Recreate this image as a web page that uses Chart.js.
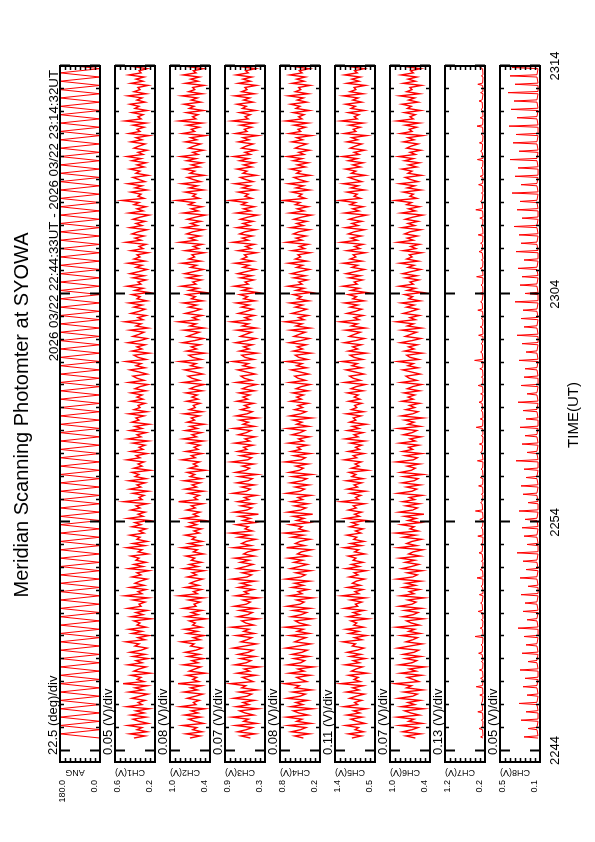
<!DOCTYPE html>
<html>
<head>
<meta charset="utf-8">
<script src="https://cdn.jsdelivr.net/npm/chart.js@4"></script>
<style>
  html, body { margin: 0; padding: 0; background: #fff; overflow: hidden; }
  #page { position: absolute; left: 0; top: 0; width: 842px; height: 595px;
          transform-origin: 0 0; transform: translate(0, 842px) rotate(-90deg); }
  #page canvas { position: absolute; left: 0; top: 0; }
</style>
</head>
<body>
<div id="page"></div>
<script>
// first sample 22:44:33 (time = minutes after 22:00)
var startMin = 44 + 33 / 60;
var angStep = 11 / 60;   // mirror angle: one end of the sweep every 11 s
var chStep = 5.5 / 60;   // photometer channels
var scanStep = 22 / 60;  // CH7/CH8 spikes, once per scan

var channelNames = ["ANG", "CH1(V)", "CH2(V)", "CH3(V)", "CH4(V)", "CH5(V)", "CH6(V)", "CH7(V)", "CH8(V)"];
var divLabels = ["22.5 (deg)/div", "0.05 (V)/div", "0.08 (V)/div", "0.07 (V)/div", "0.08 (V)/div",
                 "0.11 (V)/div", "0.07 (V)/div", "0.13 (V)/div", "0.05 (V)/div"];
var topLabels = ["180.0", "0.6", "1.0", "0.9", "0.8", "1.4", "1.0", "1.2", "0.5"];
var bottomLabels = ["0.0", "0.2", "0.4", "0.3", "0.2", "0.5", "0.4", "0.2", "0.1"];

var timeTickValues = [44, 54, 64, 74];
var timeTickLabels = ["2244", "2254", "2304", "2314"];

var ang = [0,180,0,180,0,180,0,180,0,180,0,180,0,180,0,180,0,180,0,180,
  0,180,0,180,0,180,0,180,0,180,0,180,0,180,0,180,0,180,0,180,
  0,180,0,180,0,180,0,180,0,180,0,180,0,180,0,180,0,180,0,180,
  0,180,0,180,0,180,0,180,0,180,0,180,0,180,0,180,0,180,0,180,
  0,180,0,180,0,180,0,180,0,180,0,180,0,180,0,180,0,180,0,180,
  0,180,0,180,0,180,0,180,0,180,0,180,0,180,0,180,0,180,0,180,
  0,180,0,180,0,180,0,180,0,180,0,180,0,180,0,180,0,180,0,180,
  0,180,0,180,0,180,0,180,0,180,0,180,0,180,0,180,0,180,0,180,
  0,180,0,180];

var ch1 = [0.41,0.30,0.45,0.28,0.38,0.33,0.47,0.27,0.36,0.42,0.29,0.44,0.31,0.39,0.26,0.48,0.33,0.37,0.30,0.43,
  0.35,0.27,0.46,0.32,0.40,0.28,0.52,0.31,0.38,0.34,0.44,0.25,0.41,0.36,0.29,0.47,0.33,0.39,0.27,0.42,
  0.30,0.45,0.34,0.28,0.40,0.36,0.49,0.30,0.37,0.26,0.43,0.33,0.46,0.29,0.38,0.35,0.41,0.24,0.44,0.32,
  0.39,0.28,0.47,0.34,0.36,0.30,0.42,0.27,0.50,0.33,0.37,0.29,0.45,0.31,0.40,0.35,0.28,0.43,0.34,0.38,
  0.26,0.46,0.32,0.41,0.29,0.39,0.36,0.44,0.27,0.37,0.33,0.48,0.30,0.42,0.28,0.38,0.35,0.45,0.31,0.36,
  0.29,0.43,0.34,0.40,0.26,0.47,0.32,0.37,0.30,0.44,0.35,0.39,0.28,0.51,0.33,0.36,0.31,0.42,0.27,0.45,
  0.34,0.38,0.30,0.46,0.29,0.40,0.36,0.43,0.25,0.41,0.33,0.37,0.31,0.48,0.35,0.39,0.28,0.44,0.32,0.36,
  0.30,0.42,0.27,0.47,0.34,0.38,0.29,0.45,0.33,0.40,0.26,0.43,0.36,0.39,0.31,0.46,0.28,0.41,0.35,0.37,
  0.30,0.44,0.32,0.38,
  0.33,0.44,0.29,0.40,0.35,0.27,0.46,0.31,0.38,0.42,0.28,0.36,0.45,0.30,0.39,0.34,0.49,0.29,0.37,0.41,
  0.26,0.43,0.33,0.38,0.30,0.47,0.35,0.28,0.42,0.36,0.31,0.45,0.27,0.39,0.34,0.50,0.32,0.37,0.29,0.44,
  0.36,0.30,0.41,0.33,0.46,0.28,0.38,0.35,0.43,0.26,0.40,0.32,0.48,0.34,0.37,0.29,0.42,0.31,0.45,0.36,
  0.28,0.39,0.33,0.47,0.30,0.41,0.35,0.38,0.27,0.44,0.32,0.36,0.29,0.49,0.34,0.40,0.31,0.43,0.37,0.28,
  0.45,0.33,0.39,0.30,0.42,0.35,0.26,0.46,0.32,0.38,0.29,0.41,0.36,0.53,0.31,0.37,0.34,0.44,0.28,0.40,
  0.33,0.47,0.30,0.36,0.42,0.27,0.39,0.35,0.45,0.31,0.38,0.29,0.43,0.34,0.48,0.32,0.37,0.28,0.41,0.36,
  0.30,0.44,0.33,0.39,0.26,0.46,0.35,0.38,0.31,0.42,0.29,0.50,0.34,0.37,0.32,0.43,0.28,0.40,0.36,0.45,
  0.30,0.38,0.33,0.47,0.29,0.41,0.35,0.37,0.27,0.44,0.32,0.39,0.31,0.46,0.34,0.36,0.28,0.42,0.33,0.40,
  0.30,0.45,0.35,0.37];

var ch2 = [0.70,0.55,0.76,0.52,0.66,0.60,0.81,0.50,0.63,0.72,0.54,0.78,0.58,0.68,0.48,0.84,0.61,0.65,0.56,0.74,
  0.62,0.51,0.79,0.59,0.69,0.53,0.88,0.57,0.66,0.60,0.75,0.47,0.71,0.63,0.54,0.80,0.58,0.67,0.50,0.73,
  0.56,0.77,0.61,0.52,0.69,0.64,0.83,0.55,0.65,0.49,0.74,0.59,0.78,0.53,0.66,0.62,0.71,0.46,0.76,0.58,
  0.68,0.52,0.80,0.61,0.64,0.55,0.72,0.50,0.86,0.59,0.65,0.53,0.77,0.57,0.70,0.62,0.51,0.74,0.60,0.67,
  0.49,0.79,0.58,0.71,0.53,0.68,0.63,0.76,0.50,0.65,0.59,0.82,0.55,0.72,0.52,0.67,0.62,0.77,0.56,0.64,
  0.53,0.74,0.60,0.70,0.48,0.80,0.58,0.65,0.55,0.75,0.62,0.68,0.51,0.87,0.59,0.64,0.56,0.72,0.50,0.77,
  0.60,0.67,0.55,0.79,0.53,0.70,0.63,0.74,0.47,0.71,0.59,0.65,0.56,0.82,0.62,0.68,0.52,0.76,0.58,0.64,
  0.55,0.72,0.50,0.80,0.60,0.67,0.53,0.77,0.59,0.70,0.49,0.74,0.63,0.68,0.56,0.79,0.52,0.71,0.62,0.65,
  0.55,0.75,0.58,0.67,
  0.59,0.76,0.52,0.70,0.62,0.49,0.80,0.56,0.67,0.73,0.51,0.64,0.78,0.54,0.69,0.61,0.85,0.53,0.66,0.72,
  0.48,0.75,0.60,0.68,0.55,0.81,0.63,0.50,0.74,0.65,0.56,0.79,0.49,0.70,0.61,0.87,0.58,0.66,0.52,0.77,
  0.64,0.54,0.72,0.60,0.80,0.51,0.68,0.62,0.75,0.47,0.71,0.58,0.83,0.61,0.66,0.53,0.74,0.56,0.78,0.64,
  0.50,0.69,0.60,0.82,0.54,0.72,0.63,0.67,0.49,0.77,0.57,0.65,0.52,0.85,0.61,0.71,0.55,0.75,0.66,0.50,
  0.79,0.59,0.69,0.54,0.74,0.62,0.47,0.80,0.58,0.68,0.52,0.72,0.64,0.90,0.56,0.66,0.61,0.77,0.50,0.71,
  0.59,0.82,0.54,0.65,0.74,0.49,0.70,0.63,0.79,0.56,0.68,0.52,0.75,0.61,0.84,0.58,0.66,0.50,0.72,0.64,
  0.54,0.77,0.60,0.69,0.47,0.81,0.63,0.68,0.56,0.74,0.52,0.86,0.61,0.66,0.58,0.75,0.50,0.71,0.64,0.79,
  0.54,0.68,0.59,0.82,0.52,0.72,0.63,0.66,0.49,0.77,0.58,0.69,0.56,0.80,0.61,0.65,0.50,0.74,0.60,0.71,
  0.54,0.78,0.63,0.66];

var ch3 = [0.52,0.66,0.45,0.71,0.58,0.49,0.74,0.43,0.62,0.55,0.79,0.47,0.60,0.68,0.41,0.73,0.54,0.63,0.46,0.77,
  0.57,0.50,0.69,0.42,0.65,0.59,0.82,0.48,0.56,0.64,0.44,0.72,0.53,0.61,0.39,0.75,0.58,0.51,0.67,0.45,
  0.70,0.55,0.48,0.78,0.60,0.43,0.66,0.57,0.50,0.73,0.46,0.62,0.54,0.80,0.47,0.59,0.65,0.41,0.71,0.56,
  0.49,0.68,0.44,0.76,0.58,0.52,0.63,0.40,0.74,0.55,0.61,0.47,0.70,0.53,0.66,0.45,0.79,0.57,0.50,0.64,
  0.43,0.72,0.59,0.48,0.67,0.54,0.75,0.46,0.62,0.56,0.42,0.77,0.51,0.65,0.58,0.44,0.70,0.53,0.81,0.49,
  0.60,0.55,0.73,0.45,0.63,0.52,0.68,0.40,0.76,0.57,0.50,0.66,0.47,0.71,0.54,0.61,0.43,0.78,0.58,0.52,
  0.65,0.46,0.72,0.55,0.49,0.69,0.42,0.74,0.59,0.53,0.64,0.47,0.80,0.56,0.50,0.67,0.44,0.71,0.57,0.62,
  0.48,0.75,0.53,0.60,0.45,0.70,0.58,0.51,0.77,0.46,0.63,0.55,0.68,0.42,0.73,0.57,0.49,0.66,0.54,0.61,
  0.47,0.72,0.56,0.63,
  0.53,0.69,0.46,0.64,0.56,0.43,0.73,0.50,0.61,0.66,0.45,0.58,0.71,0.48,0.63,0.55,0.78,0.47,0.60,0.65,
  0.42,0.68,0.54,0.62,0.49,0.74,0.57,0.44,0.67,0.59,0.50,0.72,0.43,0.64,0.55,0.80,0.52,0.60,0.46,0.70,
  0.58,0.48,0.65,0.54,0.73,0.45,0.62,0.56,0.68,0.41,0.64,0.52,0.76,0.55,0.60,0.47,0.67,0.50,0.71,0.58,
  0.44,0.63,0.54,0.75,0.48,0.65,0.57,0.61,0.43,0.70,0.51,0.59,0.46,0.78,0.55,0.64,0.49,0.68,0.60,0.44,
  0.72,0.53,0.63,0.48,0.67,0.56,0.41,0.73,0.52,0.62,0.46,0.65,0.58,0.83,0.50,0.60,0.55,0.70,0.44,0.64,
  0.53,0.75,0.48,0.59,0.67,0.43,0.63,0.57,0.72,0.50,0.62,0.46,0.68,0.55,0.77,0.52,0.60,0.44,0.65,0.58,
  0.48,0.70,0.54,0.63,0.41,0.74,0.57,0.61,0.50,0.67,0.46,0.79,0.55,0.60,0.52,0.68,0.44,0.64,0.58,0.72,
  0.48,0.62,0.53,0.75,0.46,0.65,0.57,0.60,0.43,0.70,0.52,0.63,0.50,0.73,0.55,0.59,0.44,0.67,0.54,0.64,
  0.48,0.71,0.57,0.60];

var ch4 = [0.45,0.58,0.36,0.63,0.49,0.41,0.67,0.34,0.55,0.47,0.70,0.38,0.52,0.60,0.31,0.64,0.46,0.56,0.39,0.69,
  0.50,0.42,0.61,0.33,0.57,0.51,0.73,0.40,0.48,0.55,0.35,0.66,0.44,0.53,0.30,0.68,0.49,0.43,0.59,0.37,
  0.62,0.47,0.39,0.71,0.52,0.34,0.58,0.50,0.41,0.65,0.36,0.54,0.45,0.72,0.38,0.51,0.57,0.32,0.63,0.48,
  0.40,0.60,0.35,0.69,0.50,0.44,0.55,0.31,0.66,0.47,0.53,0.38,0.62,0.45,0.58,0.36,0.71,0.49,0.42,0.56,
  0.34,0.64,0.51,0.39,0.59,0.46,0.67,0.37,0.54,0.48,0.33,0.70,0.43,0.57,0.50,0.35,0.62,0.45,0.73,0.40,
  0.52,0.47,0.65,0.36,0.55,0.44,0.60,0.31,0.68,0.49,0.41,0.58,0.38,0.63,0.46,0.53,0.34,0.70,0.50,0.43,
  0.57,0.37,0.64,0.47,0.40,0.61,0.33,0.66,0.51,0.45,0.56,0.38,0.72,0.48,0.42,0.59,0.35,0.63,0.49,0.54,
  0.39,0.67,0.45,0.52,0.36,0.62,0.50,0.43,0.69,0.37,0.55,0.47,0.60,0.33,0.65,0.49,0.41,0.58,0.46,0.53,
  0.38,0.64,0.48,0.55,
  0.45,0.61,0.38,0.56,0.48,0.35,0.65,0.42,0.53,0.58,0.37,0.50,0.63,0.40,0.55,0.47,0.70,0.39,0.52,0.57,
  0.34,0.60,0.46,0.54,0.41,0.66,0.49,0.36,0.59,0.51,0.42,0.64,0.35,0.56,0.47,0.72,0.44,0.52,0.38,0.62,
  0.50,0.40,0.57,0.46,0.65,0.37,0.54,0.48,0.60,0.33,0.56,0.44,0.68,0.47,0.52,0.39,0.59,0.42,0.63,0.50,
  0.36,0.55,0.46,0.67,0.40,0.57,0.49,0.53,0.35,0.62,0.43,0.51,0.38,0.70,0.47,0.56,0.41,0.60,0.52,0.36,
  0.64,0.45,0.55,0.40,0.59,0.48,0.33,0.65,0.44,0.54,0.38,0.57,0.50,0.75,0.42,0.52,0.47,0.62,0.36,0.56,
  0.45,0.67,0.40,0.51,0.59,0.35,0.55,0.49,0.64,0.42,0.54,0.38,0.60,0.47,0.69,0.44,0.52,0.36,0.57,0.50,
  0.40,0.62,0.46,0.55,0.33,0.66,0.49,0.53,0.42,0.59,0.38,0.71,0.47,0.52,0.44,0.60,0.36,0.56,0.50,0.64,
  0.40,0.54,0.45,0.67,0.38,0.57,0.49,0.52,0.35,0.62,0.44,0.55,0.42,0.65,0.47,0.51,0.36,0.59,0.46,0.56,
  0.40,0.63,0.49,0.52];

var ch5 = [1.02,0.81,1.10,0.76,0.95,0.87,1.16,0.73,0.91,1.04,0.79,1.13,0.84,0.98,0.70,1.20,0.89,0.96,0.80,1.07,
  0.92,0.74,1.14,0.86,1.00,0.77,1.27,0.83,0.97,0.88,1.09,0.68,1.03,0.93,0.78,1.17,0.85,0.99,0.72,1.06,
  0.82,1.12,0.90,0.75,1.01,0.94,1.22,0.80,0.96,0.69,1.08,0.87,1.15,0.76,0.98,0.91,1.04,0.66,1.11,0.85,
  0.99,0.75,1.18,0.89,0.94,0.80,1.05,0.72,1.24,0.86,0.95,0.77,1.12,0.83,1.01,0.92,0.74,1.08,0.88,0.97,
  0.70,1.15,0.85,1.03,0.77,0.99,0.93,1.10,0.73,0.96,0.87,1.19,0.81,1.05,0.75,0.98,0.91,1.13,0.82,0.94,
  0.77,1.07,0.89,1.02,0.69,1.16,0.85,0.96,0.80,1.10,0.92,0.99,0.74,1.26,0.87,0.94,0.82,1.05,0.72,1.12,
  0.89,0.97,0.80,1.14,0.77,1.02,0.93,1.08,0.67,1.03,0.86,0.95,0.81,1.19,0.91,0.99,0.75,1.10,0.85,0.94,
  0.80,1.05,0.73,1.17,0.88,0.97,0.77,1.12,0.86,1.01,0.70,1.07,0.93,0.99,0.82,1.14,0.76,1.03,0.91,0.96,
  0.80,1.09,0.84,0.97,
  0.88,1.12,0.77,1.04,0.92,0.72,1.18,0.83,0.99,1.07,0.75,0.95,1.15,0.80,1.02,0.90,1.24,0.78,0.97,1.06,
  0.70,1.10,0.89,1.00,0.81,1.19,0.93,0.74,1.08,0.96,0.83,1.16,0.72,1.03,0.90,1.28,0.86,0.97,0.77,1.13,
  0.94,0.80,1.06,0.89,1.18,0.75,1.00,0.92,1.10,0.69,1.04,0.86,1.22,0.90,0.97,0.78,1.08,0.83,1.15,0.94,
  0.74,1.02,0.89,1.21,0.80,1.06,0.93,0.99,0.72,1.13,0.84,0.96,0.77,1.25,0.90,1.04,0.81,1.10,0.97,0.74,
  1.16,0.88,1.02,0.80,1.08,0.92,0.69,1.18,0.86,1.00,0.77,1.06,0.94,1.30,0.83,0.97,0.90,1.13,0.74,1.04,
  0.88,1.21,0.80,0.95,1.09,0.72,1.03,0.93,1.16,0.83,1.00,0.77,1.10,0.90,1.23,0.86,0.97,0.74,1.06,0.94,
  0.80,1.13,0.89,1.02,0.69,1.19,0.93,0.99,0.83,1.08,0.77,1.26,0.90,0.97,0.86,1.10,0.74,1.04,0.94,1.16,
  0.80,1.00,0.88,1.21,0.77,1.06,0.93,0.97,0.72,1.13,0.86,1.02,0.83,1.18,0.90,0.96,0.74,1.08,0.89,1.04,
  0.80,1.15,0.93,0.97];

var ch6 = [0.62,0.76,0.54,0.81,0.67,0.58,0.85,0.52,0.72,0.64,0.89,0.56,0.69,0.78,0.50,0.83,0.63,0.73,0.55,0.87,
  0.66,0.59,0.79,0.51,0.75,0.68,0.92,0.57,0.65,0.74,0.53,0.84,0.61,0.71,0.48,0.86,0.67,0.60,0.77,0.54,
  0.80,0.64,0.57,0.88,0.70,0.52,0.76,0.66,0.59,0.83,0.55,0.72,0.63,0.90,0.56,0.68,0.75,0.50,0.81,0.65,
  0.58,0.78,0.53,0.86,0.67,0.61,0.73,0.49,0.84,0.64,0.71,0.56,0.80,0.62,0.76,0.54,0.89,0.66,0.59,0.74,
  0.52,0.82,0.68,0.57,0.77,0.63,0.85,0.55,0.72,0.65,0.51,0.87,0.60,0.75,0.67,0.53,0.80,0.62,0.91,0.58,
  0.70,0.64,0.83,0.54,0.73,0.61,0.78,0.49,0.86,0.66,0.59,0.76,0.56,0.81,0.63,0.71,0.52,0.88,0.67,0.60,
  0.75,0.55,0.82,0.64,0.58,0.79,0.51,0.84,0.68,0.62,0.74,0.56,0.90,0.65,0.59,0.77,0.53,0.81,0.66,0.72,
  0.57,0.85,0.62,0.70,0.54,0.80,0.67,0.60,0.87,0.55,0.73,0.64,0.78,0.51,0.83,0.66,0.58,0.76,0.63,0.71,
  0.56,0.82,0.65,0.73,
  0.63,0.79,0.56,0.74,0.66,0.53,0.83,0.60,0.71,0.76,0.55,0.68,0.81,0.58,0.73,0.65,0.88,0.57,0.70,0.75,
  0.52,0.78,0.64,0.72,0.59,0.84,0.67,0.54,0.77,0.69,0.60,0.82,0.53,0.74,0.65,0.90,0.62,0.70,0.56,0.80,
  0.68,0.58,0.75,0.64,0.83,0.55,0.72,0.66,0.78,0.51,0.74,0.62,0.86,0.65,0.70,0.57,0.77,0.60,0.81,0.68,
  0.54,0.73,0.64,0.85,0.58,0.75,0.67,0.71,0.53,0.80,0.61,0.69,0.56,0.88,0.65,0.74,0.59,0.78,0.70,0.54,
  0.82,0.63,0.73,0.58,0.77,0.66,0.51,0.83,0.62,0.72,0.56,0.75,0.68,0.92,0.60,0.70,0.65,0.80,0.54,0.74,
  0.63,0.85,0.58,0.69,0.77,0.53,0.73,0.67,0.82,0.60,0.72,0.56,0.78,0.65,0.87,0.62,0.70,0.54,0.75,0.68,
  0.58,0.80,0.64,0.73,0.51,0.84,0.67,0.71,0.60,0.77,0.56,0.89,0.65,0.70,0.62,0.78,0.54,0.74,0.68,0.82,
  0.58,0.72,0.63,0.85,0.56,0.75,0.67,0.70,0.53,0.80,0.62,0.73,0.60,0.83,0.65,0.69,0.54,0.77,0.64,0.74,
  0.58,0.81,0.67,0.70];

// CH7 / CH8: one narrow spike per scan: level between spikes and spike top
var ch7Base = [0.25,0.26,0.25,0.26,0.27,0.25,0.26,0.25,0.26,0.25,0.27,0.26,0.25,0.26,0.25,0.26,0.27,0.25,0.26,0.25,
  0.26,0.25,0.27,0.26,0.25,0.26,0.25,0.26,0.27,0.25,0.26,0.25,0.26,0.25,0.27,0.26,0.25,0.26,0.25,0.26,
  0.27,0.25,0.26,0.25,0.26,0.25,0.27,0.26,0.25,0.26,0.25,0.26,0.27,0.25,0.26,0.25,0.26,0.25,0.27,0.26,
  0.25,0.26,0.25,0.26,0.27,0.25,0.26,0.25,0.26,0.25,0.27,0.26,0.25,0.26,0.25,0.26,0.27,0.25,0.26,0.25,
  0.26,0.25];
var ch7Peak = [0.31,0.35,0.29,0.38,0.30,0.33,0.42,0.31,0.34,0.29,0.36,0.30,0.45,0.32,0.29,0.37,0.31,0.34,0.30,0.40,
  0.32,0.29,0.35,0.31,0.38,0.30,0.33,0.44,0.31,0.29,0.36,0.32,0.30,0.39,0.31,0.34,0.29,0.42,0.32,0.30,
  0.35,0.31,0.37,0.29,0.33,0.46,0.31,0.30,0.36,0.32,0.29,0.38,0.31,0.34,0.30,0.41,0.32,0.29,0.35,0.31,
  0.37,0.30,0.33,0.43,0.31,0.29,0.36,0.32,0.30,0.39,0.31,0.34,0.29,0.40,0.32,0.30,0.35,0.31,0.38,0.29,
  0.33,0.31];
var ch8Base = [0.12,0.13,0.12,0.12,0.13,0.12,0.13,0.12,0.12,0.13,0.12,0.13,0.12,0.12,0.13,0.12,0.13,0.12,0.12,0.13,
  0.12,0.13,0.12,0.12,0.13,0.12,0.13,0.12,0.12,0.13,0.12,0.13,0.12,0.12,0.13,0.12,0.13,0.12,0.12,0.13,
  0.12,0.13,0.12,0.12,0.13,0.12,0.13,0.12,0.12,0.13,0.12,0.13,0.12,0.12,0.13,0.12,0.13,0.12,0.12,0.13,
  0.12,0.13,0.12,0.12,0.13,0.12,0.13,0.12,0.12,0.13,0.12,0.13,0.12,0.12,0.13,0.12,0.13,0.12,0.12,0.13,
  0.12,0.13];
var ch8Peak = [0.26,0.22,0.29,0.24,0.31,0.23,0.27,0.25,0.30,0.22,0.28,0.24,0.26,0.32,0.23,0.27,0.25,0.29,0.22,0.30,
  0.24,0.27,0.33,0.23,0.26,0.28,0.25,0.31,0.22,0.27,0.29,0.24,0.26,0.34,0.23,0.28,0.25,0.30,0.24,0.27,
  0.32,0.23,0.29,0.26,0.25,0.31,0.24,0.28,0.33,0.26,0.29,0.27,0.35,0.25,0.30,0.28,0.32,0.26,0.34,0.29,
  0.31,0.36,0.28,0.33,0.30,0.38,0.29,0.35,0.32,0.40,0.31,0.37,0.34,0.41,0.33,0.39,0.36,0.42,0.35,0.40,
  0.38,0.43];

// ---- layout (landscape page, rotated onto the portrait sheet) ----
var W = 842, H = 595;
var plotLeft = 80, plotRight = 776, panelH = 40;
var FONT = '"Liberation Sans", Arial, Helvetica, sans-serif';

function sampled(values, step) {
  return values.map(function (v, i) { return { x: startMin + i * step, y: v }; });
}
function spikes(base, peak) {
  var pts = [], n = Math.min(base.length, peak.length);
  for (var k = 0; k < n; k++) {
    var t = startMin + k * scanStep;
    pts.push({ x: t, y: base[k] });
    pts.push({ x: t + 3 / 60, y: peak[k] });
    pts.push({ x: t + 6 / 60, y: base[k] });
  }
  return pts;
}

var series = [sampled(ang, angStep), sampled(ch1, chStep), sampled(ch2, chStep), sampled(ch3, chStep),
              sampled(ch4, chStep), sampled(ch5, chStep), sampled(ch6, chStep),
              spikes(ch7Base, ch7Peak), spikes(ch8Base, ch8Peak)];

var panelFrame = {
  id: 'panelFrame',
  afterDatasetsDraw: function (chart, args, o) {
    var ctx = chart.ctx, a = chart.chartArea, x = chart.scales.x, y = chart.scales.y;
    ctx.save();
    ctx.strokeStyle = '#000';
    // time ticks, inside the frame on both long edges
    for (var m = Math.ceil(x.min); m <= x.max; m++) {
      var px = Math.round(x.getPixelForValue(m)) + 0.5;
      var major = timeTickValues.indexOf(m) >= 0;
      var len = major ? 10 : 4;
      ctx.lineWidth = major ? 2 : 1.5;
      ctx.beginPath();
      ctx.moveTo(px, a.top); ctx.lineTo(px, a.top + len);
      ctx.moveTo(px, a.bottom); ctx.lineTo(px, a.bottom - len);
      ctx.stroke();
    }
    // value ticks, 8 divisions
    ctx.lineWidth = 1.5;
    ctx.beginPath();
    for (var k = 1; k < 8; k++) {
      var py = Math.round(y.getPixelForValue(y.min + k * (y.max - y.min) / 8)) + 0.5;
      ctx.moveTo(a.left, py); ctx.lineTo(a.left + 4, py);
      ctx.moveTo(a.right, py); ctx.lineTo(a.right - 4, py);
    }
    ctx.stroke();
    // frame
    ctx.lineWidth = 2;
    ctx.strokeRect(a.left, a.top, a.right - a.left, a.bottom - a.top);

    // texts
    ctx.fillStyle = '#000';
    ctx.font = '9px ' + FONT;
    ctx.textAlign = 'right'; ctx.textBaseline = 'middle';
    ctx.fillText(o.topLabel, 62, a.top + 2.5);
    ctx.fillText(o.bottomLabel, 62, a.bottom - 5);
    ctx.save();
    ctx.translate(70, a.top + 15);
    ctx.rotate(-Math.PI / 2);
    ctx.textAlign = 'center';
    ctx.fillText(o.name, 0, 0);
    ctx.restore();
    ctx.font = '13px ' + FONT;
    ctx.textAlign = 'left'; ctx.textBaseline = 'alphabetic';
    ctx.fillText(o.divLabel, 87, a.top - 3.5);

    if (o.first) {
      ctx.font = '20px ' + FONT;
      ctx.textAlign = 'center';
      ctx.fillText('Meridian Scanning Photomter at SYOWA', 427, 28);
      ctx.font = '13.3px ' + FONT;
      ctx.textAlign = 'right';
      ctx.fillText('2026 03/22 22:44:33UT - 2026 03/22 23:14:32UT', 772, 57.5);
    }
    if (o.last) {
      ctx.font = '13px ' + FONT;
      ctx.textAlign = 'center';
      for (var j = 0; j < timeTickValues.length; j++) {
        ctx.fillText(timeTickLabels[j], x.getPixelForValue(timeTickValues[j]), a.bottom + 19);
      }
      ctx.font = '15px ' + FONT;
      ctx.fillText('TIME(UT)', 427, 578);
    }
    ctx.restore();
  }
};

var page = document.getElementById('page');
channelNames.forEach(function (name, i) {
  var top = 60 + 55 * i;
  var cv = document.createElement('canvas');
  cv.width = W; cv.height = H;
  cv.style.width = W + 'px'; cv.style.height = H + 'px';
  page.appendChild(cv);
  new Chart(cv, {
    type: 'line',
    data: {
      datasets: [{
        data: series[i],
        borderColor: '#ff0000',
        borderWidth: (i >= 1 && i <= 6) ? 1.4 : 1,
        pointRadius: 0,
        tension: 0
      }]
    },
    options: {
      responsive: false,
      animation: false,
      events: [],
      layout: { padding: { left: plotLeft, right: W - plotRight, top: top, bottom: H - top - panelH } },
      scales: {
        x: { type: 'linear', min: 43.5, max: 74, display: false },
        y: { type: 'linear', min: parseFloat(bottomLabels[i]), max: parseFloat(topLabels[i]), display: false }
      },
      plugins: {
        legend: { display: false },
        tooltip: { enabled: false },
        panelFrame: {
          name: name, divLabel: divLabels[i],
          topLabel: topLabels[i], bottomLabel: bottomLabels[i],
          first: i === 0, last: i === channelNames.length - 1
        }
      }
    },
    plugins: [panelFrame]
  });
});
</script>
</body>
</html>
